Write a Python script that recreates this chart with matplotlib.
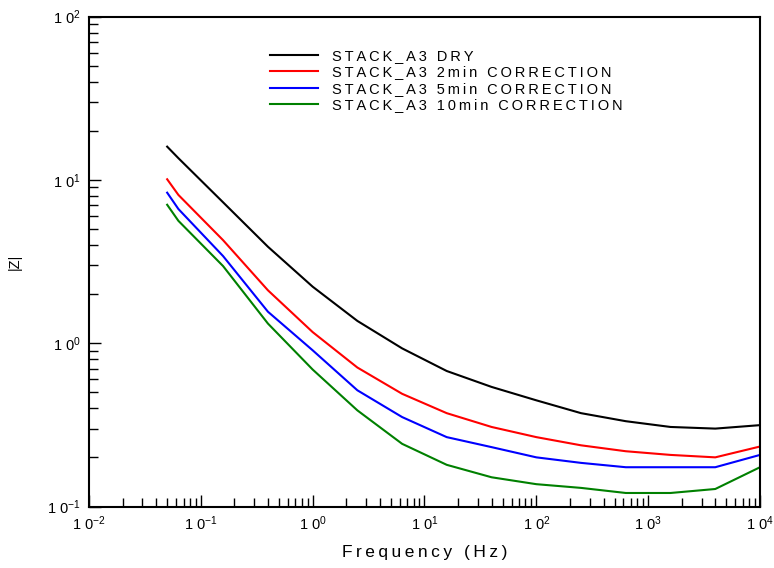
import numpy as np
import matplotlib
matplotlib.use("Agg")
import matplotlib.pyplot as plt
from matplotlib.ticker import LogLocator, FuncFormatter, NullFormatter

plt.rcParams['font.family'] = ['Liberation Sans', 'DejaVu Sans']
plt.rcParams['mathtext.default'] = 'regular'

# frequencies (Hz), 0.4 decade steps
freq = [0.05, 0.063, 0.158, 0.398, 1.0, 2.51, 6.31, 15.8, 39.8, 100, 251, 631, 1585, 3981, 10000]

z_dry = [16.0, 13.6, 7.3, 3.9, 2.22, 1.37, 0.93, 0.676, 0.54, 0.447, 0.373, 0.333, 0.307, 0.30, 0.315]
z_2min = [10.1, 8.1, 4.28, 2.11, 1.17, 0.71, 0.49, 0.373, 0.307, 0.266, 0.237, 0.218, 0.207, 0.20, 0.233]
z_5min = [8.36, 6.64, 3.42, 1.56, 0.905, 0.515, 0.353, 0.266, 0.231, 0.20, 0.185, 0.174, 0.174, 0.174, 0.207]
z_10min = [7.05, 5.62, 2.97, 1.32, 0.69, 0.388, 0.242, 0.18, 0.151, 0.137, 0.13, 0.121, 0.121, 0.128, 0.174]

labels = ['STACK_A3 DRY', 'STACK_A3 2min CORRECTION',
          'STACK_A3 5min CORRECTION', 'STACK_A3 10min CORRECTION']
colors = ['black', 'red', 'blue', 'green']

TS = '\u2009'  # thin space, for the letter-spaced look


def spaced(s):
    return TS.join(s)


fig = plt.figure(figsize=(7.74, 5.68), dpi=100)
ax = fig.add_axes([89 / 774, 1 - 506.5 / 568, (760 - 89) / 774, (506.5 - 16.7) / 568])

for z, lab, c in zip([z_dry, z_2min, z_5min, z_10min], labels, colors):
    ax.plot(freq, z, color=c, lw=1.5, label=spaced(lab))

ax.set_xscale('log')
ax.set_yscale('log')
ax.set_xlim(1e-2, 1e4)
ax.set_ylim(1e-1, 1e2)

fmt = FuncFormatter(lambda v, p: r'$1\;0^{%d}$' % int(round(np.log10(v))))
for a in (ax.xaxis, ax.yaxis):
    a.set_major_locator(LogLocator(base=10, numticks=20))
    a.set_minor_locator(LogLocator(base=10, subs=np.arange(2, 10), numticks=20))
    a.set_major_formatter(fmt)
    a.set_minor_formatter(NullFormatter())

ax.tick_params(which='major', direction='in', length=8.5, width=1.0, labelsize=10.5,
               top=False, right=False, pad=6)
ax.tick_params(which='minor', direction='in', length=6.2, width=1.0, top=False, right=False)
for s in ax.spines.values():
    s.set_linewidth(1.5)

ax.set_xlabel(spaced('Frequency (Hz)'), fontsize=12.5, labelpad=8)
ax.set_ylabel('|Z|', fontsize=10.5, labelpad=18)

leg = ax.legend(loc='upper left', bbox_to_anchor=(270 / 774, 1 - 49 / 568),
                bbox_transform=fig.transFigure, frameon=False, fontsize=10.5,
                handlelength=3.3, handletextpad=0.95, labelspacing=0.16,
                borderpad=0, borderaxespad=0)

fig.savefig('out.png', dpi=100)
